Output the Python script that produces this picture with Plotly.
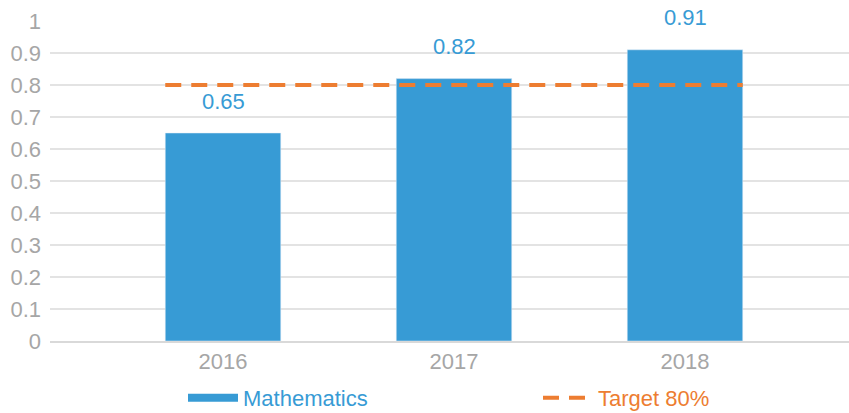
import plotly.graph_objects as go

categories = ["2016", "2017", "2018"]
math_values = [0.65, 0.82, 0.91]
target_value = 0.8
series_names = ["Mathematics", "Target 80%"]
y_tick_values = [0, 0.1, 0.2, 0.3, 0.4, 0.5, 0.6, 0.7, 0.8, 0.9, 1]

BLUE = "#379BD5"
ORANGE = "#ED7D31"
GRAY = "#A6A6A6"
GRID = "#E3E3E3"
FONT = "Liberation Sans"
bar_width = 0.5

x_idx = list(range(len(categories)))

fig = go.Figure()
fig.add_trace(go.Bar(
    x=x_idx, y=math_values, width=bar_width, marker_color=BLUE,
    name=series_names[0], showlegend=False, legendgroup="m",
))
# legend proxy (wide swatch like the reference)
fig.add_trace(go.Scatter(
    x=[None], y=[None], mode="lines", line=dict(color=BLUE, width=8),
    name=series_names[0], legendgroup="m", showlegend=True, legend="legend",
))
fig.add_trace(go.Scatter(
    x=[x_idx[0] - bar_width / 2, x_idx[-1] + bar_width / 2],
    y=[target_value, target_value], mode="lines",
    line=dict(color=ORANGE, width=4, dash="16px,10px"),
    name=series_names[1], legend="legend2",
))

for xi, v in zip(x_idx, math_values):
    fig.add_annotation(x=xi, y=v, text=f"{v:.2f}", showarrow=False,
                       yshift=32, yanchor="middle",
                       font=dict(family=FONT, size=22, color=BLUE))

def px_x(p):
    return (p - 50) / 799

def px_y(p):
    return (341 - p) / 320

fig.update_layout(
    width=849, height=413,
    margin=dict(l=50, r=0, t=21, b=72, autoexpand=False),
    paper_bgcolor="white", plot_bgcolor="white",
    font=dict(family=FONT, size=22, color=GRAY),
    showlegend=True,
    legend=dict(
        orientation="h", x=px_x(183), xanchor="left",
        y=px_y(398), yanchor="middle", itemwidth=50,
        font=dict(family=FONT, size=22, color=BLUE),
        bgcolor="rgba(0,0,0,0)",
    ),
    legend2=dict(
        orientation="h", x=px_x(538), xanchor="left",
        y=px_y(398), yanchor="middle", itemwidth=50,
        font=dict(family=FONT, size=22, color=ORANGE),
        bgcolor="rgba(0,0,0,0)",
    ),
    xaxis=dict(
        range=[-0.749, 2.710], tickvals=x_idx, ticktext=categories,
        showgrid=False, zeroline=False, showline=True, linecolor="#D9D9D9",
        linewidth=2, ticks="", tickfont=dict(color=GRAY, size=22),
        fixedrange=True, automargin=False,
    ),
    yaxis=dict(
        range=[0, 1], tickvals=y_tick_values,
        ticktext=[f"{t:g}" for t in y_tick_values],
        showgrid=True, gridcolor=GRID, gridwidth=2, zeroline=False,
        ticks="", ticklabelstandoff=8, tickfont=dict(color=GRAY, size=22),
        fixedrange=True, automargin=False,
    ),
)

fig.write_html("out.html", config={"displayModeBar": False},
               post_script="document.body.style.margin='0';document.body.style.overflow='hidden';")
